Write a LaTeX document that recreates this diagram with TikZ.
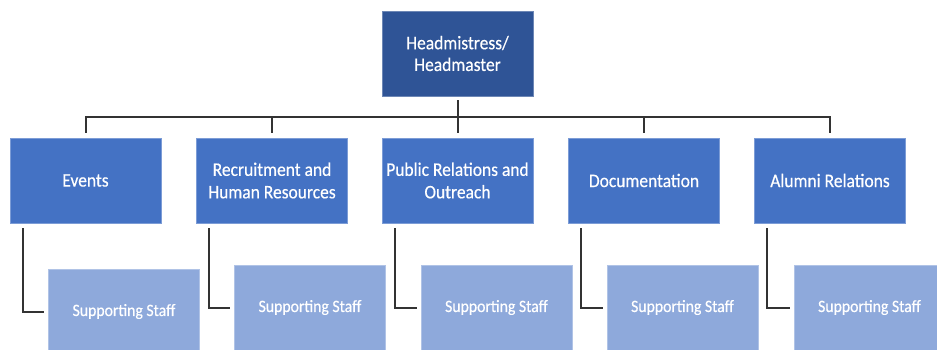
\documentclass[tikz,border=0pt]{standalone}
\usepackage{fontspec}
\setmainfont{Carlito}
\newfontfamily\boxfont[FakeStretch=0.91,FakeBold=0.4]{Carlito}
\usetikzlibrary{calc}
\definecolor{headblue}{HTML}{2F5496}
\definecolor{unitblue}{HTML}{4472C4}
\definecolor{staffblue}{HTML}{8EA9DB}
\definecolor{linkgray}{HTML}{333333}
\begin{document}
\begin{tikzpicture}[x=1pt,y=-1pt,
  box/.style={rectangle, inner sep=0pt, minimum width=151pt, minimum height=85pt,
    align=center, text=white, line width=0.6pt},
  headbox/.style={box, fill=headblue, draw=headblue!70!white,
    font=\boxfont\fontsize{19.2}{21.7}\selectfont},
  unitbox/.style={box, fill=unitblue, draw=unitblue!70!white,
    font=\boxfont\fontsize{19.2}{22.5}\selectfont},
  staffbox/.style={box, fill=staffblue, draw=staffblue!70!white,
    font=\boxfont\fontsize{17.3}{20}\selectfont},
  conn/.style={draw=linkgray, line width=2pt}]
\clip (0,0) rectangle (937,350);
\fill[white] (0,0) rectangle (937,350);

% head of school
\node[headbox] (head) at (457.5,53.5) {Headmistress/\\Headmaster};

% departments
\node[unitbox] (events) at (85.5,180.5) {Events};
\node[unitbox] (recruit) at (272,180.5) {Recruitment and\\Human Resources};
\node[unitbox] (pr) at (457.5,180.5) {Public Relations and\\Outreach};
\node[unitbox] (docs) at (644,180.5) {Documentation};
\node[unitbox] (alumni) at (830,180.5) {Alumni Relations};

% supporting staff of each department
\node[staffbox] (s1) at (124,311.5) {Supporting Staff};
\node[staffbox] (s2) at (310,307.5) {Supporting Staff};
\node[staffbox] (s3) at (496.5,307.5) {Supporting Staff};
\node[staffbox] (s4) at (682.5,307.5) {Supporting Staff};
\node[staffbox] (s5) at (869.5,307.5) {Supporting Staff};

% bus line below the head
\coordinate (bus) at ($(head.south)+(0,21)$);
\draw[conn, shorten <=4pt, shorten >=5pt] (head.south) -- (pr.north);
\foreach \d in {events,recruit,docs,alumni}
  \draw[conn, shorten >=5pt] (bus) -| (\d.north);

% department to supporting staff
\foreach \d/\s in {events/s1,recruit/s2,pr/s3,docs/s4,alumni/s5}
  \draw[conn, shorten <=5pt, shorten >=4pt]
    ($(\d.south west)+(13,0)$) |- (\s.west);
\end{tikzpicture}
\end{document}
